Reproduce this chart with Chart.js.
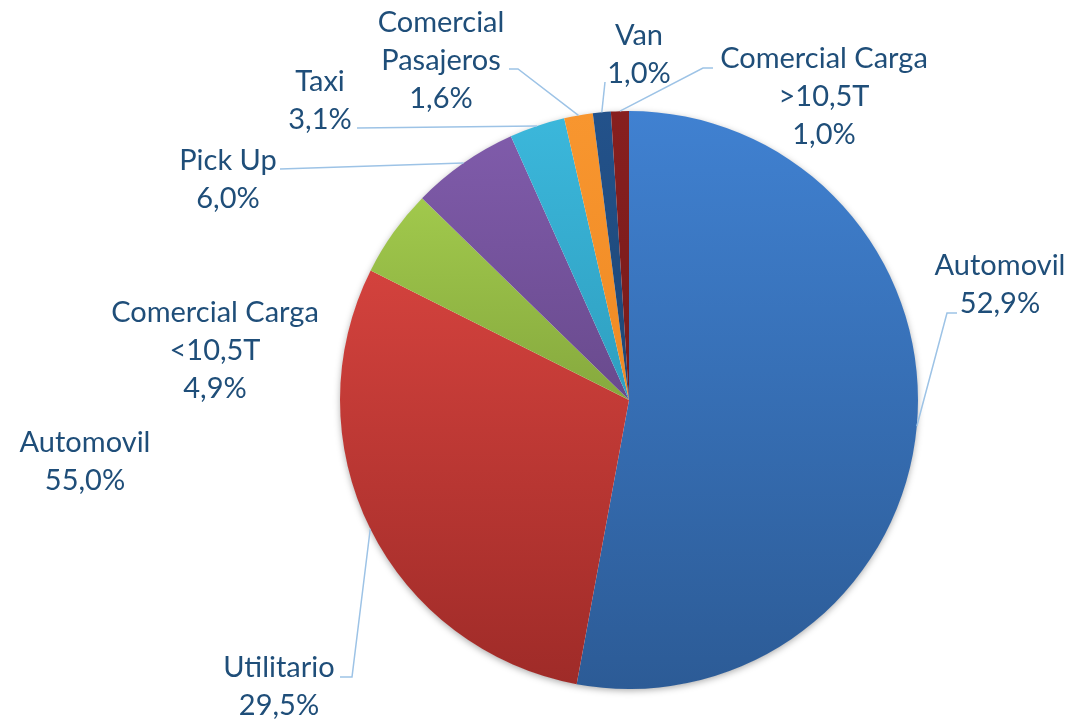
<!DOCTYPE html>
<html>
<head>
<meta charset="utf-8">
<script src="https://cdn.jsdelivr.net/npm/chart.js@4"></script>
<style>
  html, body { margin: 0; padding: 0; background: #ffffff; }
  #wrap { width: 1073px; height: 721px; position: relative; }
</style>
</head>
<body>
<div id="wrap"><canvas id="pieChart" width="1073" height="721"></canvas></div>
<script>
// data
const categories = ["Automovil", "Utilitario", "Comercial Carga <10,5T", "Pick Up", "Taxi", "Comercial Pasajeros", "Van", "Comercial Carga >10,5T"];
const shares = [52.9, 29.5, 4.9, 6.0, 3.1, 1.6, 1.0, 1.0];
const labelLines = [["Automovil"], ["Utilitario"], ["Comercial Carga", "<10,5T"], ["Pick Up"], ["Taxi"], ["Comercial", "Pasajeros"], ["Van"], ["Comercial Carga", ">10,5T"]];
const strayLabel = ["Automovil", "55,0%"];

// styles / layout
const topColors = ["#4081d1", "#d3423d", "#a1c94c", "#7f5baa", "#3bb7db", "#f8962f", "#23528b", "#871f1f"];
const bottomColors = ["#2c5b96", "#9f2b28", "#86a93e", "#694a8d", "#2f9fc0", "#ef8a24", "#1d4674", "#781b1b"];
const textColor = "#1f4e79";
const leaderColor = "#9dc3e6";
const fontSpec = "29px Lato";
const lineGap = 38;
// label block: center x, first baseline y
const labelPos = [[1000, 275], [279, 677], [215, 322], [228, 170], [320, 91], [441, 32], [639, 45], [824, 68]];
// leader path points after the slice edge point
const leaders = [[[947, 313], [957, 313]], [[352, 677], [340, 677]], null, [[280, 169]], [[357, 128]], [[518, 69], [509, 69]], [[605, 82]], [[703, 68], [713, 68]]];
const strayPos = [85, 452];

const total = shares.reduce((a, b) => a + b, 0);

function sliceGradient(context) {
    const chart = context.chart;
    const area = chart.chartArea;
    const i = context.dataIndex;
    if (!area) {
        return topColors[i];
    }
    const cy = (area.top + area.bottom) / 2;
    const r = Math.min(area.width, area.height) / 2;
    const before = shares.slice(0, i).reduce((a, b) => a + b, 0);
    const a0 = -Math.PI / 2 + 2 * Math.PI * before / total;
    const a1 = a0 + 2 * Math.PI * shares[i] / total;
    const ys = [cy, cy + r * Math.sin(a0), cy + r * Math.sin(a1)];
    [-Math.PI / 2, Math.PI / 2, 3 * Math.PI / 2].forEach((t) => {
        if (t >= a0 && t <= a1) {
            ys.push(cy + r * Math.sin(t));
        }
    });
    const ymin = Math.min(...ys);
    const ymax = Math.max(...ys);
    const g = chart.ctx.createLinearGradient(0, ymin, 0, ymax);
    g.addColorStop(0, topColors[i]);
    g.addColorStop(1, bottomColors[i]);
    return g;
}

const shadowPlugin = {
    id: "pieShadow",
    beforeDatasetsDraw(chart) {
        const arc = chart.getDatasetMeta(0).data[0];
        if (!arc) return;
        const ctx = chart.ctx;
        ctx.save();
        ctx.shadowColor = "rgba(0,0,0,0.35)";
        ctx.shadowBlur = 7;
        ctx.shadowOffsetY = 2;
        ctx.fillStyle = "#ffffff";
        ctx.beginPath();
        ctx.arc(arc.x, arc.y, arc.outerRadius - 0.5, 0, Math.PI * 2);
        ctx.fill();
        ctx.restore();
    },
};

const labelPlugin = {
    id: "outsideLabels",
    afterDatasetsDraw(chart) {
        const ctx = chart.ctx;
        const arcs = chart.getDatasetMeta(0).data;
        ctx.save();
        ctx.strokeStyle = leaderColor;
        ctx.lineWidth = 1.5;
        arcs.forEach((arc, i) => {
            const path = leaders[i];
            if (!path) return;
            const mid = (arc.startAngle + arc.endAngle) / 2;
            ctx.beginPath();
            ctx.moveTo(arc.x + Math.cos(mid) * arc.outerRadius, arc.y + Math.sin(mid) * arc.outerRadius);
            path.forEach((p) => ctx.lineTo(p[0], p[1]));
            ctx.stroke();
        });
        ctx.font = fontSpec;
        ctx.fillStyle = textColor;
        ctx.textAlign = "center";
        ctx.textBaseline = "alphabetic";
        arcs.forEach((arc, i) => {
            const lines = labelLines[i].concat([shares[i].toFixed(1).replace(".", ",") + "%"]);
            const [cx, by] = labelPos[i];
            lines.forEach((line, k) => ctx.fillText(line, cx, by + k * lineGap));
        });
        strayLabel.forEach((line, k) => ctx.fillText(line, strayPos[0], strayPos[1] + k * lineGap));
        ctx.restore();
    },
};

new Chart(document.getElementById("pieChart"), {
    type: "pie",
    data: {
        labels: categories,
        datasets: [
            {
                data: shares,
                backgroundColor: sliceGradient,
                borderWidth: 0,
                hoverOffset: 0,
            },
        ],
    },
    options: {
        responsive: false,
        animation: false,
        layout: { padding: { left: 340, right: 155, top: 111, bottom: 32 } },
        plugins: {
            legend: { display: false },
            tooltip: { enabled: false },
        },
    },
    plugins: [shadowPlugin, labelPlugin],
});
</script>
</body>
</html>
